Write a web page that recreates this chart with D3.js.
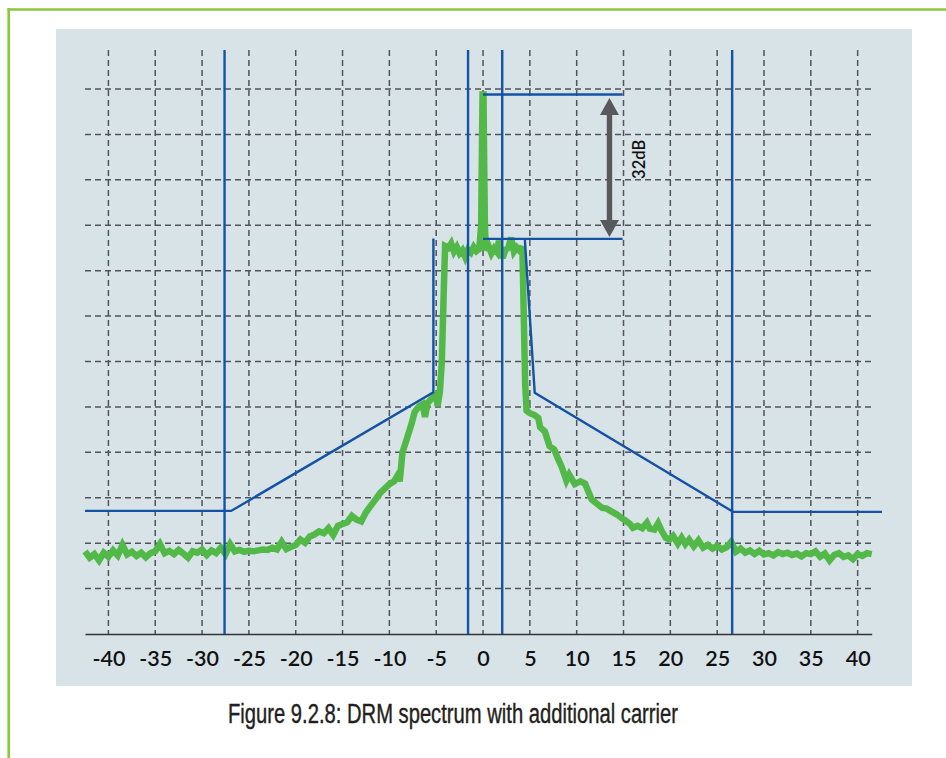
<!DOCTYPE html>
<html>
<head>
<meta charset="utf-8">
<script src="https://cdn.jsdelivr.net/npm/d3@7"></script>
<style>
  html, body { margin: 0; padding: 0; background: #ffffff; }
  svg { display: block; }
</style>
</head>
<body>
<svg id="chart" width="946" height="758"></svg>
<script>
// ---- Data (frequency offset in kHz, level in dB above the axis baseline) ----
const tickValues = [-40, -35, -30, -25, -20, -15, -10, -5, 0, 5, 10, 15, 20, 25, 30, 35, 40];
const gridLevels = [10, 20, 30, 40, 50, 60, 70, 80, 90, 100, 110, 120];

// Measured DRM spectrum (green trace): [offset, level]
const spectrum = [
  [-42.5, 18.2], [-42.0, 16.8], [-41.5, 17.6], [-41.0, 16.2], [-40.5, 17.9], [-40.0, 17.0],
  [-39.5, 18.4], [-39.0, 17.3], [-38.5, 19.6], [-38.0, 17.5], [-37.5, 18.1], [-37.0, 17.2],
  [-36.5, 17.9], [-36.0, 16.9], [-35.5, 17.8], [-35.0, 18.2], [-34.5, 19.8], [-34.0, 17.8],
  [-33.5, 18.3], [-33.0, 17.6], [-32.5, 18.5], [-32.0, 17.7], [-31.5, 16.8], [-31.0, 18.2],
  [-30.5, 17.9], [-30.0, 18.6], [-29.5, 17.4], [-29.0, 18.4], [-28.5, 17.8], [-28.0, 19.0],
  [-27.5, 17.6], [-27.0, 19.8], [-26.5, 18.2], [-26.0, 18.5], [-25.5, 18.1], [-25.0, 18.3],
  [-24.5, 18.2], [-24.0, 18.4], [-23.5, 18.6], [-23.0, 18.5], [-22.5, 19.0], [-22.0, 18.6],
  [-21.5, 20.3], [-21.0, 18.7], [-20.5, 19.2], [-20.0, 19.6], [-19.5, 20.8], [-19.0, 20.1],
  [-18.5, 21.5], [-18.0, 21.9], [-17.5, 22.6], [-17.0, 22.2], [-16.5, 23.3], [-16.0, 21.8],
  [-15.5, 23.8], [-15.0, 24.2], [-14.5, 24.6], [-14.0, 26.0], [-13.5, 25.2], [-13.0, 24.8],
  [-12.5, 26.8], [-12.0, 28.2], [-11.5, 29.6], [-11.0, 31.0], [-10.5, 32.0], [-10.0, 33.0],
  [-9.5, 33.6], [-9.1, 35.0], [-8.9, 33.6], [-8.6, 40.0], [-8.1, 43.2], [-7.6, 46.5],
  [-7.3, 48.9], [-6.8, 50.2], [-6.45, 50.6], [-6.2, 47.8], [-5.9, 50.9], [-5.5, 51.8],
  [-5.0, 52.6], [-4.85, 50.2], [-4.6, 53.5], [-4.4, 60.0], [-4.2, 75.0], [-4.05, 85.4],
  [-3.7, 85.0], [-3.4, 86.0], [-3.1, 84.2], [-2.8, 85.2], [-2.5, 83.8], [-2.2, 84.5],
  [-1.9, 83.0], [-1.6, 84.6], [-1.3, 84.0], [-1.0, 85.2], [-0.7, 84.3], [-0.4, 84.8],
  [-0.2, 90.0], [-0.1, 110.0], [-0.05, 118.8], [0.05, 118.8], [0.1, 108.0], [0.2, 90.0],
  [0.3, 84.5], [0.6, 85.4], [0.9, 83.8], [1.2, 84.9], [1.5, 84.1], [1.7, 86.6],
  [1.9, 84.3], [2.1, 82.8], [2.4, 84.6], [2.7, 85.0], [3.0, 87.3], [3.3, 84.2],
  [3.6, 85.1], [3.9, 84.4], [4.2, 85.3], [4.35, 70.0], [4.5, 55.0], [4.65, 49.2],
  [5.0, 48.6], [5.5, 48.2], [5.9, 47.6], [6.1, 45.5], [6.6, 44.6], [7.1, 41.4],
  [7.6, 40.6], [8.0, 38.6], [8.4, 36.8], [8.9, 33.8], [9.2, 35.1], [9.8, 33.0],
  [10.4, 33.6], [10.9, 33.1], [11.6, 29.6], [12.1, 28.8], [12.7, 27.8], [13.2, 27.6],
  [13.7, 27.0], [14.3, 26.3], [14.8, 25.5], [15.2, 25.0], [15.7, 24.2], [16.0, 23.4],
  [16.5, 23.8], [17.0, 23.3], [17.5, 24.5], [17.8, 23.2], [18.3, 23.0], [18.7, 24.4],
  [19.1, 22.6], [19.5, 21.2], [19.9, 20.8], [20.3, 21.6], [20.8, 19.9], [21.2, 21.2],
  [21.6, 19.8], [22.0, 20.8], [22.5, 19.3], [23.0, 20.6], [23.5, 19.0], [24.0, 19.6],
  [24.5, 18.8], [25.0, 19.4], [25.5, 18.6], [26.0, 19.1], [26.5, 20.3], [27.0, 18.1],
  [27.5, 18.8], [28.0, 17.9], [28.5, 18.4], [29.0, 17.6], [29.5, 18.3], [30.0, 17.5],
  [30.5, 17.8], [31.0, 17.3], [31.5, 18.0], [32.0, 17.6], [32.5, 17.9], [33.0, 17.4],
  [33.5, 17.7], [34.0, 17.1], [34.5, 17.8], [35.0, 17.6], [35.5, 18.2], [36.0, 17.0],
  [36.5, 17.7], [37.0, 16.2], [37.5, 17.4], [38.0, 17.8], [38.5, 17.0], [39.0, 17.3],
  [39.5, 16.5], [40.0, 17.6], [40.5, 17.2], [41.0, 17.8], [41.5, 17.6]
];

// Spectrum mask (blue), left and right branches
const maskLeft  = [[-42.5, 27.1], [-26.9, 27.1], [-5.3, 53.2], [-5.3, 87.1]];
const maskRight = [[4.46, 87.0], [5.52, 53.1], [26.7, 26.9], [42.6, 26.9]];

// Vertical blue marker lines (kHz)
const markerLines = [-27.6, -1.6, 2.05, 26.6];
const markerTop = 128.6;

// Carrier-to-DRM level reference
const refLevels = [118.8, 87.0];
const refSpan = [0, 14.9];
const arrowAt = 13.5;
const arrowLabel = "32dB";
const labelAt = [16.5, 104.5];

const caption = "Figure 9.2.8: DRM spectrum with additional carrier";

// ---- Drawing ----
const svg = d3.select("#chart");

const x = d3.scaleLinear().domain([-42.5, 41.5]).range([85, 871.7]);
const y = d3.scaleLinear().domain([0, 120]).range([634, 89]);

// outer frame (green)
svg.append("line").attr("x1", 7.5).attr("x2", 946).attr("y1", 9.5).attr("y2", 9.5)
  .attr("stroke", "#8cc63f").attr("stroke-width", 2.6);
svg.append("line").attr("x1", 8.7).attr("x2", 8.7).attr("y1", 8.2).attr("y2", 758)
  .attr("stroke", "#8cc63f").attr("stroke-width", 2.6);

// panel
svg.append("rect").attr("x", 56).attr("y", 29).attr("width", 856).attr("height", 657)
  .attr("fill", "#d8e3e8");

// grid
const grid = svg.append("g").attr("stroke", "#505458").attr("stroke-width", 1.5)
  .attr("stroke-dasharray", "6,4");
grid.selectAll("line.v").data(tickValues).join("line").attr("class", "v")
  .attr("x1", d => x(d)).attr("x2", d => x(d))
  .attr("y1", y(markerTop)).attr("y2", y(0));
grid.selectAll("line.h").data(gridLevels).join("line").attr("class", "h")
  .attr("x1", x.range()[0]).attr("x2", x.range()[1] + 1)
  .attr("y1", d => y(d)).attr("y2", d => y(d));

// axis
const axis = d3.axisBottom(x).tickValues(tickValues).tickSize(0).tickPadding(17)
  .tickFormat(d => String(d));
const gAxis = svg.append("g").attr("transform", `translate(0,${y(0)})`).call(axis);
gAxis.select(".domain").attr("stroke", "#333").attr("stroke-width", 1.6);
gAxis.selectAll("text").attr("font-family", "Lato, 'Open Sans', sans-serif")
  .attr("font-size", 21.5).attr("font-weight", 600).attr("fill", "#111");

// green spectrum trace
const line = d3.line().x(d => x(d[0])).y(d => y(d[1]));
svg.append("path").datum(spectrum).attr("d", line)
  .attr("fill", "none").attr("stroke", "#52b848").attr("stroke-width", 6.5)
  .attr("stroke-linejoin", "miter").attr("stroke-miterlimit", 3);

// blue mask + markers
const blue = "#1452a6";
[maskLeft, maskRight].forEach(m => {
  svg.append("path").datum(m).attr("d", line)
    .attr("fill", "none").attr("stroke", blue).attr("stroke-width", 2.4);
});
svg.selectAll("line.marker").data(markerLines).join("line").attr("class", "marker")
  .attr("x1", d => x(d)).attr("x2", d => x(d))
  .attr("y1", y(markerTop)).attr("y2", y(0))
  .attr("stroke", blue).attr("stroke-width", 2.4);
svg.selectAll("line.ref").data(refLevels).join("line").attr("class", "ref")
  .attr("x1", x(refSpan[0])).attr("x2", x(refSpan[1]))
  .attr("y1", d => y(d)).attr("y2", d => y(d))
  .attr("stroke", blue).attr("stroke-width", 2.4);

// double arrow
const ax = x(arrowAt), yTop = y(refLevels[0]) + 3.5, yBot = y(refLevels[1]) - 2;
const hw = 9.5, hh = 17, sw = 2.7;
const arrowPath = [
  [ax, yTop], [ax + hw, yTop + hh], [ax + sw, yTop + hh], [ax + sw, yBot - hh],
  [ax + hw, yBot - hh], [ax, yBot], [ax - hw, yBot - hh], [ax - sw, yBot - hh],
  [ax - sw, yTop + hh], [ax - hw, yTop + hh]
];
svg.append("path").attr("d", d3.line()(arrowPath) + "Z").attr("fill", "#58595b");

svg.append("text")
  .attr("transform", `translate(${x(labelAt[0]) + 7},${y(labelAt[1])}) rotate(-90)`)
  .attr("text-anchor", "middle")
  .attr("font-family", "Lato, 'Open Sans', sans-serif").attr("font-size", 16.5)
  .attr("font-weight", 600).attr("fill", "#111")
  .text(arrowLabel);

// caption
svg.append("text").attr("x", 228).attr("y", 723)
  .attr("font-family", "'Liberation Sans Narrow', 'Arial Narrow', 'Liberation Sans', Arial, sans-serif")
  .attr("font-size", 27).attr("fill", "#231f20")
  .attr("stroke", "#231f20").attr("stroke-width", 0.4)
  .attr("textLength", 450).attr("lengthAdjust", "spacingAndGlyphs")
  .text(caption);
</script>
</body>
</html>
